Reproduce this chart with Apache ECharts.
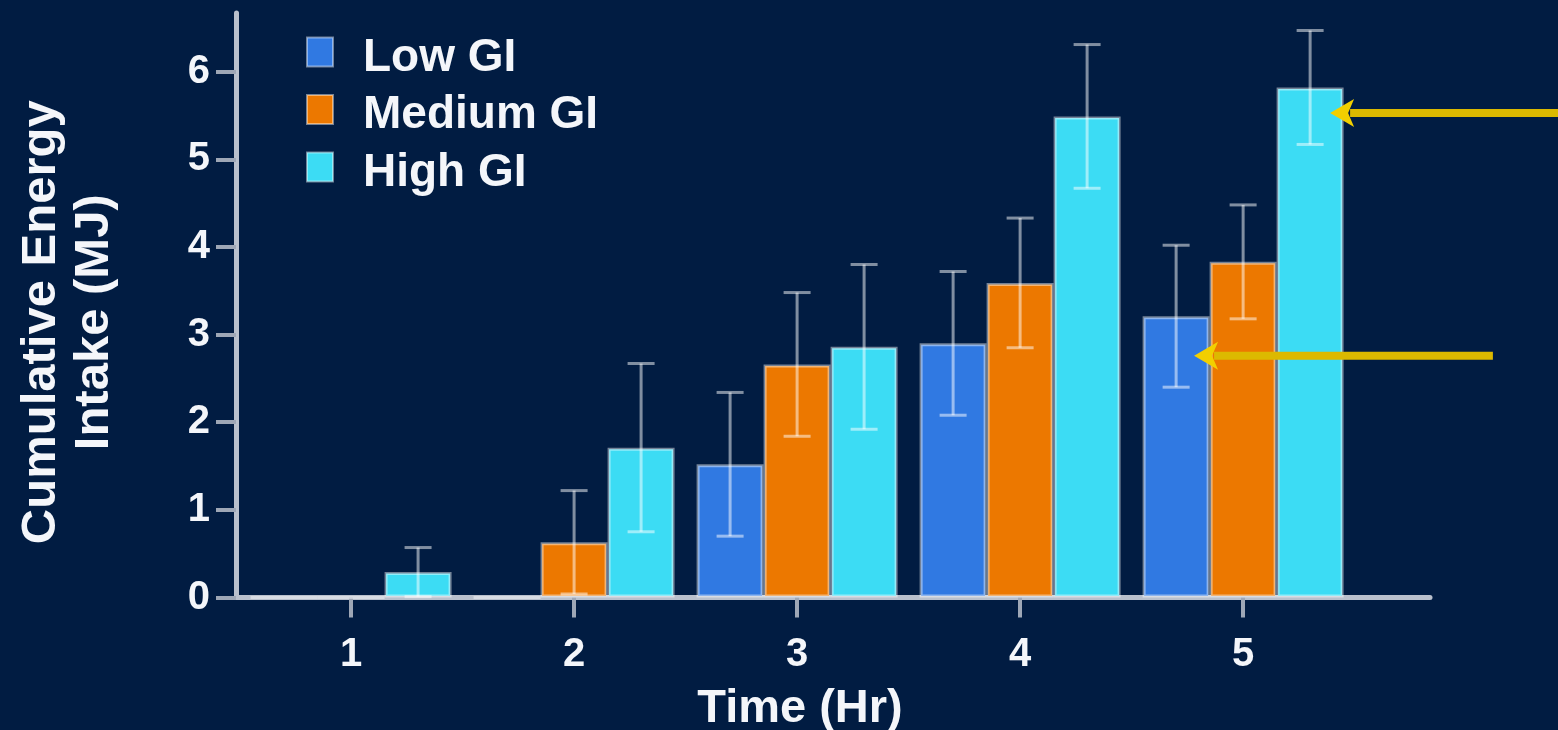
<!DOCTYPE html>
<html>
<head>
<meta charset="utf-8">
<title>Cumulative Energy Intake by GI</title>
<script src="https://cdn.jsdelivr.net/npm/echarts@6/dist/echarts.min.js"></script>
<style>
  html, body { margin: 0; padding: 0; background: #011c42; }
  #chart { width: 1558px; height: 730px; }
</style>
</head>
<body>
<div id="chart"></div>
<script>
// Time points (hours) and mean cumulative energy intake (MJ) per GI group
const hours = [1, 2, 3, 4, 5];
const lowGI = [0, 0, 1.52, 2.90, 3.21];
const mediumGI = [0, 0.63, 2.66, 3.59, 3.83];
const highGI = [0.29, 1.71, 2.86, 5.49, 5.82];

// Error bar half-widths (MJ)
const lowErr = [0, 0, 0.82, 0.82, 0.81];
const mediumErr = [0, 0.59, 0.82, 0.74, 0.65];
const highErr = [0.28, 0.96, 0.94, 0.82, 0.65];

const seriesNames = ['Low GI', 'Medium GI', 'High GI'];
const xTicks = [1, 2, 3, 4, 5];
const yTicks = [0, 1, 2, 3, 4, 5, 6];

// Highlight arrows: tail x, tip x, level (data units)
const arrows = [
  { tail: 7.2, tip: 5.39, y: 5.53 },
  { tail: 6.12, tip: 4.78, y: 2.76 }
];

const FONT = "'Liberation Sans', Arial, sans-serif";
const TEXT = '#f4f6fa';
const AXIS = '#b9c0cc';
const BAR_W = 67;
const colors = ['#3079e2', '#ec7800', '#3cdcf4'];

const means = [lowGI, mediumGI, highGI];
const errs = [lowErr, mediumErr, highErr];

const chart = echarts.init(document.getElementById('chart'));

function barSeries(i) {
  return {
    name: seriesNames[i],
    type: 'bar',
    barWidth: BAR_W,
    barGap: '0%',
    itemStyle: {
      color: colors[i],
      borderColor: 'rgba(255,255,255,0.45)',
      borderWidth: 3
    },
    z: 2,
    data: hours.map((h, k) => [h, means[i][k]])
  };
}

function errorSeries(i) {
  const data = [];
  hours.forEach((h, k) => {
    if (errs[i][k] > 0) data.push([h, means[i][k] - errs[i][k], means[i][k] + errs[i][k]]);
  });
  return {
    type: 'custom',
    silent: true,
    z: 5,
    renderItem: function (params, api) {
      const x = api.value(0);
      const hi = api.coord([x, api.value(2)]);
      const lo = api.coord([x, api.value(1)]);
      const cx = hi[0] + (i - 1) * BAR_W;
      const half = 13.5;
      const style = { stroke: 'rgba(255,255,255,0.5)', lineWidth: 3 };
      return {
        type: 'group',
        children: [
          { type: 'line', shape: { x1: cx, y1: hi[1], x2: cx, y2: lo[1] }, style: style },
          { type: 'line', shape: { x1: cx - half, y1: hi[1], x2: cx + half, y2: hi[1] }, style: style },
          { type: 'line', shape: { x1: cx - half, y1: lo[1], x2: cx + half, y2: lo[1] }, style: style }
        ]
      };
    },
    encode: { x: 0, y: [1, 2] },
    data: data
  };
}

const arrowSeries = {
  type: 'custom',
  silent: true,
  z: 8,
  clip: false,
  renderItem: function (params, api) {
    const tail = api.coord([api.value(0), api.value(2)]);
    const tip = api.coord([api.value(1), api.value(2)]);
    const headLen = 24, headHalf = 14;
    const yellow = '#dcb900';
    return {
      type: 'group',
      children: [
        { type: 'line', shape: { x1: tail[0], y1: tail[1], x2: tip[0] + headLen - 4, y2: tip[1] },
          style: { stroke: yellow, lineWidth: 8 } },
        { type: 'polygon', shape: { points: [
            [tip[0], tip[1]],
            [tip[0] + headLen, tip[1] - headHalf],
            [tip[0] + headLen - 6, tip[1]],
            [tip[0] + headLen, tip[1] + headHalf]
          ] }, style: { fill: '#f2cf00' } }
      ]
    };
  },
  encode: { x: [0, 1], y: 2 },
  data: arrows.map(a => [a.tail, a.tip, a.y])
};

const option = {
  backgroundColor: '#011c42',
  animation: false,
  textStyle: { fontFamily: FONT },
  grid: { left: 236, right: 128, top: 13, bottom: 132.5, containLabel: false, outerBoundsMode: 'none' },
  legend: {
    orient: 'vertical',
    left: 301,
    top: 18,
    itemWidth: 26,
    itemHeight: 29,
    itemGap: -0.5,
    icon: 'rect',
    selectedMode: false,
    data: seriesNames,
    formatter: '{t|{name}}',
    textStyle: {
      color: TEXT,
      fontSize: 46,
      fontWeight: 'bold',
      fontFamily: FONT,
      rich: {
        t: {
          color: TEXT,
          fontSize: 46,
          fontWeight: 'bold',
          fontFamily: FONT,
          lineHeight: 46,
          padding: [12, 0, 0, 25]
        }
      }
    }
  },
  xAxis: {
    type: 'value',
    min: 0.484,
    max: 5.838,
    name: 'Time (Hr)',
    nameLocation: 'middle',
    nameGap: 88,
    nameTextStyle: {
      color: TEXT, fontSize: 47, fontWeight: 'bold', fontFamily: FONT, lineHeight: 47,
      padding: [0, 66, 0, 0]
    },
    splitLine: { show: false },
    axisLine: { show: true, lineStyle: { color: AXIS, width: 5 } },
    axisTick: { show: true, length: 20, customValues: xTicks, lineStyle: { color: '#9ea7b6', width: 4 } },
    axisLabel: {
      customValues: xTicks,
      margin: 37,
      color: TEXT,
      fontSize: 40,
      fontWeight: 'bold',
      fontFamily: FONT
    }
  },
  yAxis: {
    type: 'value',
    min: 0,
    max: 6.67,
    name: 'Cumulative Energy\nIntake (MJ)',
    nameLocation: 'middle',
    nameRotate: 90,
    nameGap: 115,
    nameTextStyle: {
      color: TEXT, fontSize: 49, fontWeight: 'bold', fontFamily: FONT, lineHeight: 53,
      padding: [0, 34, 0, 0]
    },
    splitLine: { show: false },
    axisLine: { show: true, lineStyle: { color: AXIS, width: 5 } },
    axisTick: { show: true, length: 20, customValues: yTicks, lineStyle: { color: '#9ea7b6', width: 4 } },
    axisLabel: {
      customValues: yTicks,
      margin: 26,
      color: TEXT,
      fontSize: 40,
      fontWeight: 'bold',
      fontFamily: FONT
    }
  },
  series: [
    barSeries(0), barSeries(1), barSeries(2),
    errorSeries(0), errorSeries(1), errorSeries(2),
    arrowSeries
  ]
};

chart.setOption(option);
</script>
</body>
</html>
